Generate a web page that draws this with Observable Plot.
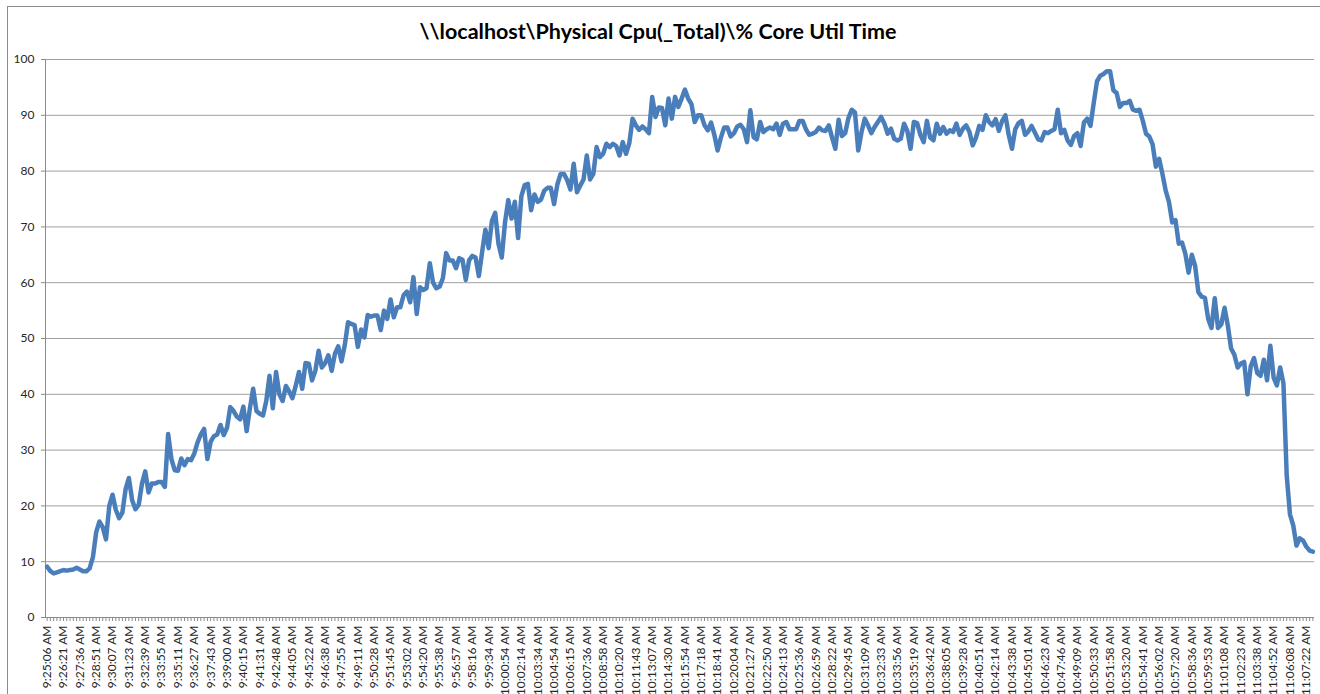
<!DOCTYPE html>
<html>
<head>
<meta charset="utf-8">
<script src="https://cdn.jsdelivr.net/npm/d3@7"></script>
<script src="https://cdn.jsdelivr.net/npm/@observablehq/plot@0.6"></script>
<style>
  body { margin: 0; background: #fff; }
  #wrap { position: relative; width: 1320px; height: 694px; overflow: hidden; font-family: Lato, "Liberation Sans", sans-serif; }
  #border { position: absolute; left: 7px; top: 6px; width: 1400px; height: 800px; border-left: 1px solid #8c8c8c; border-top: 1px solid #8c8c8c; pointer-events: none; }
  #title { height: 48px; box-sizing: border-box; padding-top: 18px; padding-right: 4px; text-align: center; font-weight: bold; font-size: 21.5px; line-height: 26px; color: #000; }
  #chart svg { display: block; }
</style>
</head>
<body>
<div id="wrap">
  <div id="border"></div>
  <div id="title"></div>
  <div id="chart"></div>
</div>
<script>
const titleText = "\\\\localhost\\Physical Cpu(_Total)\\% Core Util Time";

const timeLabels = [
  "9:25:06 AM","9:26:21 AM","9:27:36 AM","9:28:51 AM","9:30:07 AM","9:31:23 AM","9:32:39 AM","9:33:55 AM",
  "9:35:11 AM","9:36:27 AM","9:37:43 AM","9:39:00 AM","9:40:15 AM","9:41:31 AM","9:42:48 AM","9:44:05 AM",
  "9:45:22 AM","9:46:38 AM","9:47:55 AM","9:49:11 AM","9:50:28 AM","9:51:45 AM","9:53:02 AM","9:54:20 AM",
  "9:55:38 AM","9:56:57 AM","9:58:16 AM","9:59:34 AM","10:00:54 AM","10:02:14 AM","10:03:34 AM","10:04:54 AM",
  "10:06:15 AM","10:07:36 AM","10:08:58 AM","10:10:20 AM","10:11:43 AM","10:13:07 AM","10:14:30 AM","10:15:54 AM",
  "10:17:18 AM","10:18:41 AM","10:20:04 AM","10:21:27 AM","10:22:50 AM","10:24:13 AM","10:25:36 AM","10:26:59 AM",
  "10:28:22 AM","10:29:45 AM","10:31:09 AM","10:32:33 AM","10:33:56 AM","10:35:19 AM","10:36:42 AM","10:38:05 AM",
  "10:39:28 AM","10:40:51 AM","10:42:14 AM","10:43:38 AM","10:45:01 AM","10:46:23 AM","10:47:46 AM","10:49:09 AM",
  "10:50:33 AM","10:51:58 AM","10:53:20 AM","10:54:41 AM","10:56:02 AM","10:57:20 AM","10:58:36 AM","10:59:53 AM",
  "11:01:08 AM","11:02:23 AM","11:03:38 AM","11:04:52 AM","11:06:08 AM","11:07:22 AM"
];

const samplesPerLabel = 5;

const cpuValues = [
  9.1, 8.3, 7.9, 8.1, 8.3, 8.5, 8.4, 8.5, 8.6, 8.9,
  8.6, 8.3, 8.3, 8.8, 10.8, 15.3, 17.2, 16.2, 14, 20,
  22, 19.3, 17.8, 18.8, 23, 25, 21, 19.4, 20.2, 24,
  26.2, 22.4, 24, 24, 24.3, 24.3, 23.4, 32.9, 28.4, 26.4,
  26.3, 28.5, 27.3, 28.4, 28.2, 29.4, 31.4, 32.8, 33.8, 28.4,
  31.5, 32.5, 32.8, 34.5, 32.7, 34, 37.7, 37, 36, 35.5,
  37.8, 33.4, 37.5, 41, 37, 36.5, 36.2, 38.8, 43.3, 37.5,
  44, 40, 38.8, 41.5, 40.5, 39.3, 41.5, 44, 41, 45.6,
  45.5, 42.5, 44.2, 47.8, 44.8, 45.6, 47, 44.2, 47.3, 48.6,
  45.9, 48.8, 52.9, 52.6, 52.4, 48.5, 51.6, 50.2, 54.2, 53.9,
  54.1, 54.1, 51.5, 55, 53.5, 57, 53.8, 55.6, 55.6, 57.8,
  58.4, 56.5, 61, 54.4, 59.2, 58.7, 59, 63.5, 60, 59,
  59.3, 60.8, 65.3, 64, 64, 62.6, 64.4, 64.1, 60.5, 64,
  64.8, 64.5, 61.2, 65.5, 69.5, 66.2, 71.1, 72.5, 67, 64.5,
  70.8, 74.8, 71.5, 74.5, 68, 75.5, 77.5, 77.7, 73, 75.8,
  74.5, 74.9, 76.5, 77, 77, 74.1, 77.6, 79.5, 79.5, 78.4,
  76.7, 81.3, 76.2, 77.4, 78.5, 82.8, 78.5, 79.5, 84.3, 82.5,
  83.1, 84.9, 84.3, 84.9, 84.5, 82.8, 85.2, 83.1, 85, 89.4,
  88.2, 87.4, 88, 87.5, 86.8, 93.3, 89.7, 91.4, 91.3, 88.2,
  93, 89.4, 93.3, 91.5, 93, 94.6, 93, 92, 88.8, 90,
  90, 88.2, 87.3, 88.7, 86.5, 83.7, 86, 87.8, 87.8, 86.2,
  86.8, 88, 88.3, 87.5, 85.2, 90.9, 86.1, 85.7, 88.8, 87,
  87.5, 87.8, 87.5, 88.5, 86.5, 88.5, 88.8, 87.5, 87.5, 87.5,
  89, 89, 87.5, 86.5, 86.7, 87, 87.8, 87.3, 87.2, 88.2,
  86, 84, 89.2, 86.3, 86.8, 89.5, 91, 90.5, 83.7, 87,
  89.4, 88.2, 86.8, 87.9, 88.8, 89.7, 88.5, 86.7, 87.6, 85.8,
  85.5, 85.8, 88.5, 87.2, 84, 88.8, 88.6, 86.5, 85.2, 89,
  86, 85.5, 88.5, 86.7, 87.9, 86.7, 87.3, 87, 88.5, 86.5,
  87.6, 88.2, 87, 84.6, 86, 88.1, 87.4, 90, 88.8, 88.2,
  89.3, 87.2, 89, 90, 86.5, 84, 87.5, 88.6, 89, 86.5,
  87.1, 88.1, 86.9, 85.7, 85.5, 87, 86.8, 87.2, 87.5, 91,
  86.8, 87.4, 85.5, 84.7, 86.3, 86.8, 84.5, 88.7, 89.4, 88.1,
  92.2, 96.1, 97.1, 97.4, 97.9, 97.9, 94.5, 94, 91.5, 92.2,
  92.2, 92.6, 91, 90.8, 91, 89, 86.7, 86.2, 84.8, 80.8,
  82.2, 79.5, 76.5, 74.5, 70.8, 71.2, 67, 67.2, 65.2, 61.8,
  65, 63, 58.3, 57.5, 57.3, 53.5, 51.9, 57.2, 51.9, 52.5,
  55.5, 52.3, 48.2, 47.1, 44.8, 45.5, 45.8, 40, 45, 46.5,
  43.8, 43.3, 46.2, 42.5, 48.7, 43, 41.6, 44.8, 42, 25.5,
  18.5, 16.5, 12.9, 14.2, 13.8, 12.7, 12, 11.8
];

const yTicks = [0, 10, 20, 30, 40, 50, 60, 70, 80, 90, 100];

document.getElementById("title").textContent = titleText;

const data = cpuValues.map((v, i) => ({i, v}));
const N = cpuValues.length;
const xDomain = [-0.5, N - 0.5];
const axisGray = "#8c8c8c";

const chart = Plot.plot({
  width: 1320,
  height: 646,
  marginTop: 11,
  marginBottom: 77,
  marginLeft: 45,
  marginRight: 6,
  style: {fontFamily: "Lato, 'Liberation Sans', sans-serif", fontSize: "12px", color: "#262626", background: "transparent"},
  x: {domain: xDomain, axis: null},
  y: {domain: [0, 100], axis: null},
  marks: [
    Plot.gridY(yTicks.filter(t => t > 0), {stroke: "#a0a0a0", strokeOpacity: 1, strokeWidth: 1}),
    Plot.axisY({ticks: yTicks, tickSize: 4, tickPadding: 7, stroke: axisGray, label: null}),
    Plot.axisX({
      ticks: d3.range(N),
      tickSize: 4,
      tickPadding: 4,
      tickRotate: -90,
      stroke: axisGray,
      label: null,
      tickFormat: i => (i % samplesPerLabel === 0 && timeLabels[i / samplesPerLabel]) ? timeLabels[i / samplesPerLabel] : ""
    }),
    Plot.ruleX([xDomain[0]], {stroke: axisGray}),
    Plot.ruleY([0], {stroke: axisGray}),
    Plot.line(data, {x: "i", y: "v", stroke: "#4a7ebb", strokeWidth: 4.5, strokeLinejoin: "round", strokeLinecap: "round"})
  ]
});
document.getElementById("chart").appendChild(chart);
</script>
</body>
</html>
